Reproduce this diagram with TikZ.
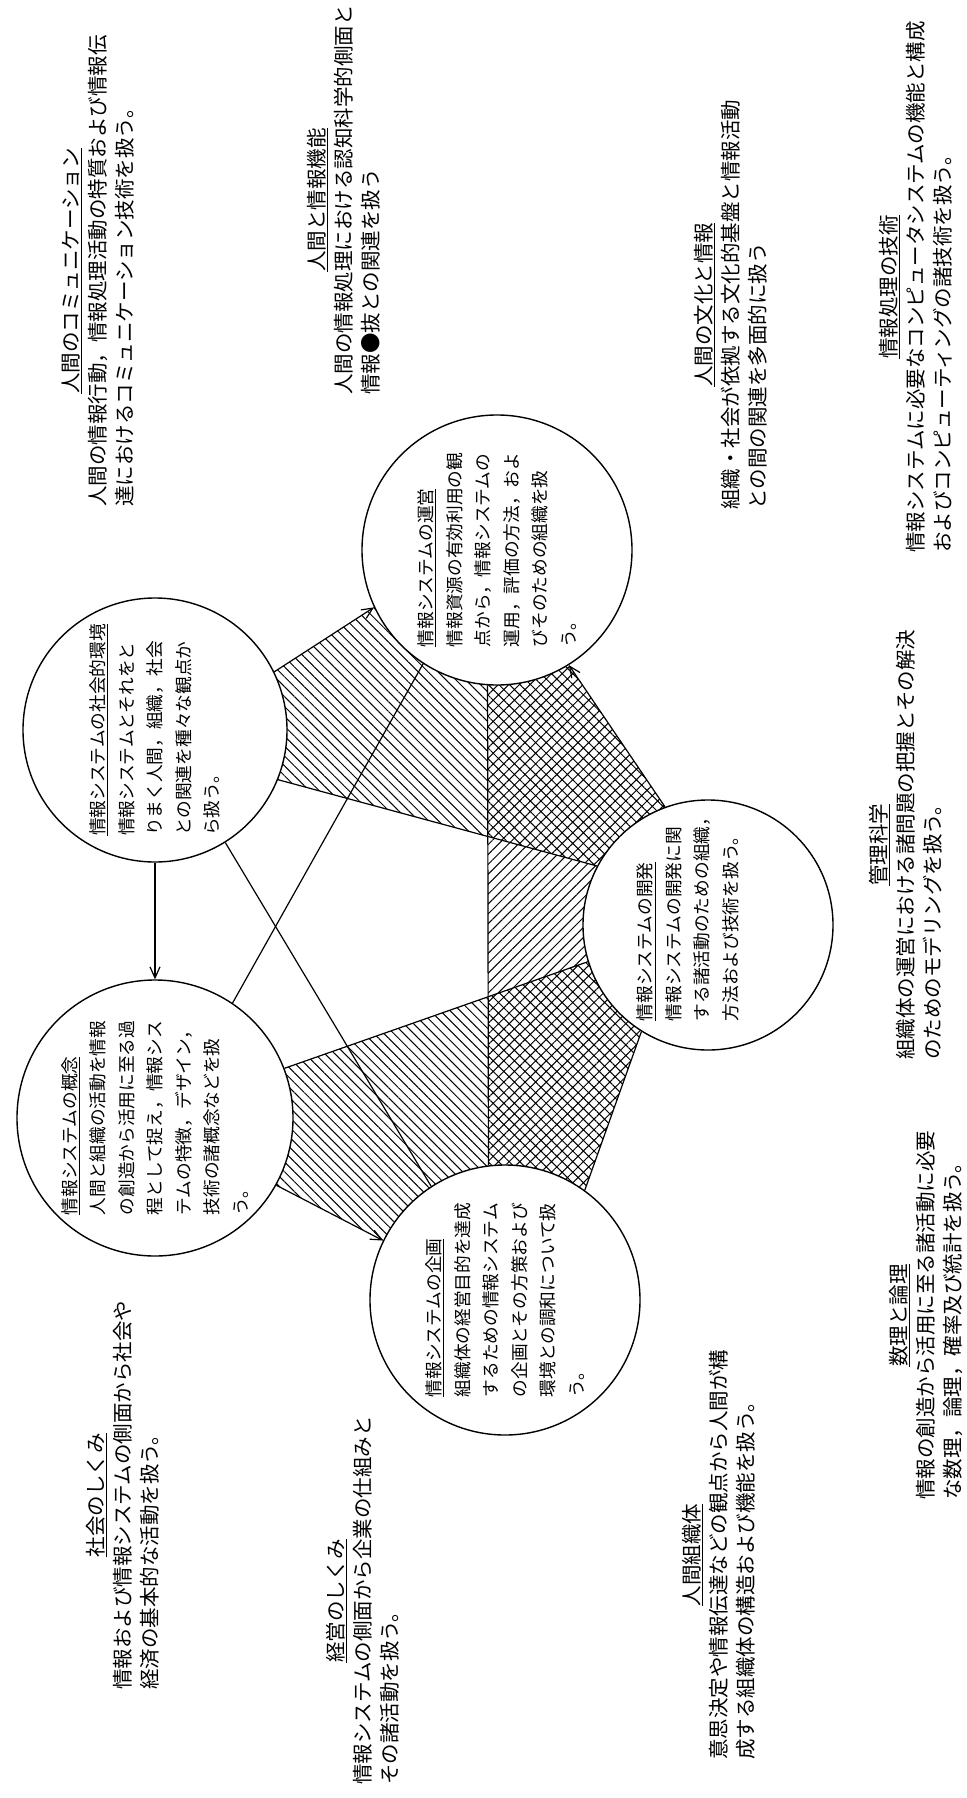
\documentclass[tikz,border=0pt]{standalone}
\usepackage{fontspec}
\newfontfamily\jp{Noto Sans CJK JP}
\usetikzlibrary{patterns.meta,arrows.meta}
\pgfdeclarelayer{bg}
\pgfsetlayers{bg,main}
\newcommand\otitle[1]{\multicolumn{1}{@{}c@{}}{\underline{#1}}}
\begin{document}
\begin{tikzpicture}[x=1pt,y=-1pt,
  circ/.style={circle,draw,line width=1.4pt,fill=white,inner sep=0pt},
  ctext/.style={font={\jp\fontsize{17.7}{28.5}\selectfont},rotate=90,align=left,inner sep=0pt},
  otext/.style={font={\jp\fontsize{20.5}{27}\selectfont},rotate=90,inner sep=0pt,anchor=north west},
  conn/.style={line width=1.2pt},
  arr/.style={conn,-{Straight Barb[length=11pt,width=10pt,line width=1.2pt]}},
  hatchA/.style={pattern={Lines[angle=-45,distance=7pt,line width=1pt]}},
  hatchB/.style={pattern={Lines[angle=45,distance=7pt,line width=1pt]}},
  cross/.style={pattern={Hatch[angle=45,distance=7.5pt,line width=1pt]}},
]
\begin{pgfonlayer}{bg}
\fill[white] (0,0) rectangle (966,1798);
\end{pgfonlayer}
\useasboundingbox (0,0) rectangle (966,1798);

% circles
\node[circ,minimum size=264pt] (S) at (155,730) {};
\node[circ,minimum size=276pt] (C) at (155,1118) {};
\node[circ,minimum size=270pt] (O) at (497,550) {};
\node[circ,minimum size=270pt] (P) at (505,1300) {};
\node[circ,minimum size=250pt] (D) at (708,925) {};

% points on the circles
\coordinate (s1) at (S.26);
\coordinate (o1) at (O.205);
\coordinate (s2) at (S.-22);
\coordinate (d1) at (D.152);
\coordinate (c1) at (C.21);
\coordinate (d2) at (D.197);
\coordinate (c2) at (C.-29);
\coordinate (p1) at (P.154);
\coordinate (d3) at (D.110);
\coordinate (o2) at (O.-58);
\coordinate (d4) at (D.238);
\coordinate (p2) at (P.54);
\coordinate (ob) at (O.-94.25);
\coordinate (pt) at (P.97.66);
\coordinate (x1) at (intersection of s2--d1 and ob--pt);
\coordinate (x2) at (intersection of c1--d2 and ob--pt);

% hatched regions
\begin{pgfonlayer}{bg}
\fill[hatchA] (S.center) -- (s1) -- (o1) -- (O.center) -- (ob) -- (x1) -- (s2) -- cycle;
\fill[hatchA] (C.center) -- (c1) -- (x2) -- (pt) -- (P.center) -- (p1) -- (c2) -- cycle;
\fill[hatchB] (x1) -- (d1) -- (D.center) -- (d2) -- (x2) -- cycle;
\fill[cross] (ob) -- (O.center) -- (o2) -- (d3) -- (D.center) -- (d1) -- (x1) -- cycle;
\fill[cross] (x2) -- (d2) -- (D.center) -- (d4) -- (p2) -- (P.center) -- (pt) -- cycle;
\end{pgfonlayer}

% connectors
\draw[arr] (S.26) -- (O.205);
\draw[conn] (S.-22) -- (D.152);
\draw[conn] (C.21) -- (D.197);
\draw[arr] (C.-29) -- (P.154);
\draw[arr] (D.110) -- (O.-58);
\draw[conn] (D.238) -- (P.54);
\draw[conn] (S.-58) -- (P.123);
\draw[conn] (C.56) -- (O.-123);
\draw[arr] (S.south) -- (C.north);
\draw[conn] (O.-94.25) -- (P.97.66);

% circle texts
\node[ctext] (tS) at (S) {\underline{情報システムの社会的環境}\\情報システムとそれをと\\りまく人間，組織，社会\\との関連を種々な観点か\\ら扱う。};
\node[ctext] (tC) at (C) {\underline{情報システムの概念}\\人間と組織の活動を情報\\の創造から活用に至る過\\程として捉え，情報シス\\テムの特徴，デザイン，\\技術の諸概念などを扱\\う。};
\node[ctext] (tO) at (O) {\underline{情報システムの運営}\\情報資源の有効利用の観\\点から，情報システムの\\運用，評価の方法，およ\\びそのための組織を扱\\う。};
\node[ctext] (tP) at (P) {\underline{情報システムの企画}\\組織体の経営目的を達成\\するための情報システム\\の企画とその方策および\\環境との調和について扱\\う。};
\node[ctext] (tD) at (688,915) {\underline{情報システムの開発}\\情報システムの開発に関\\する諸活動のための組織，\\方法および技術を扱う。};

% outer texts
\node[otext] (t1) at (59,507) {\begin{tabular}{@{}l@{}}\otitle{人間のコミュニケーション}\\人間の情報行動，情報処理活動の特質および情報伝\\達におけるコミュニケーション技術を扱う。\end{tabular}};
\node[otext] (t2) at (305,395) {\begin{tabular}{@{}l@{}}\otitle{人間と情報機能}\\人間の情報処理における認知科学的側面と\\情報●抜との関連を扱う\end{tabular}};
\node[otext] (t3) at (692,510) {\begin{tabular}{@{}l@{}}\otitle{人間の文化と情報}\\組織・社会が依拠する文化的基盤と情報活動\\との間の関連を多面的に扱う\end{tabular}};
\node[otext] (t4) at (877,553) {\begin{tabular}{@{}l@{}}\otitle{情報処理の技術}\\情報システムに必要なコンピュータシステムの機能と構成\\およびコンピューティングの諸技術を扱う。\end{tabular}};
\node[otext] (t5) at (867,1060) {\begin{tabular}{@{}l@{}}\otitle{管理科学}\\組織体の運営における諸問題の把握とその解決\\のためのモデリングを扱う。\end{tabular}};
\node[otext] (t6) at (887,1500) {\begin{tabular}{@{}l@{}}\otitle{数理と論理}\\情報の創造から活用に至る諸活動に必要\\な数理，論理，確率及び統計を扱う。\end{tabular}};
\node[otext] (t7) at (680,1760) {\begin{tabular}{@{}l@{}}\otitle{人間組織体}\\意思決定や情報伝達などの観点から人間が構\\成する組織体の構造および機能を扱う。\end{tabular}};
\node[otext] (t8) at (324,1785) {\begin{tabular}{@{}l@{}}\otitle{経営のしくみ}\\情報システムの側面から企業の仕組みと\\その諸活動を扱う。\end{tabular}};
\node[otext] (t9) at (84,1690) {\begin{tabular}{@{}l@{}}\otitle{社会のしくみ}\\情報および情報システムの側面から社会や\\経済の基本的な活動を扱う。\end{tabular}};
\end{tikzpicture}
\end{document}
